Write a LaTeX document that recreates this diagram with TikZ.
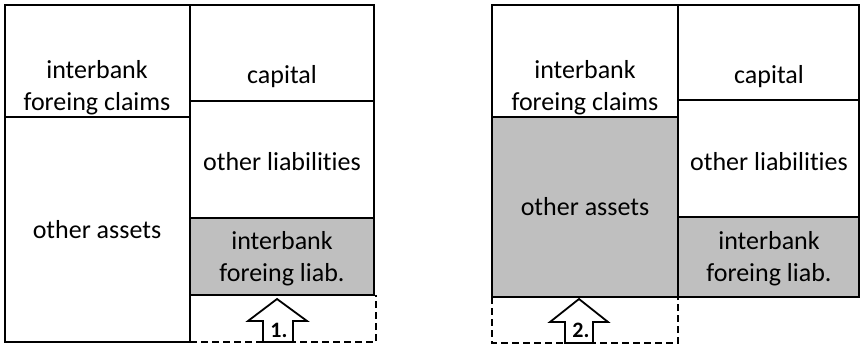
\documentclass[tikz,border=0pt]{standalone}
\usepackage{fontspec}
\setmainfont[Ligatures=NoCommon]{Carlito}
\usepackage{tikz}
\usetikzlibrary{positioning}
\tikzset{
  box/.style={draw, line width=2pt},
  shade/.style={fill=gray!50},
  dashbox/.style={dash pattern=on 7pt off 4pt},
  lbl/.style={font=\fontsize{26}{32}\selectfont, align=center, inner sep=0pt},
  nr/.style={font=\fontsize{22}{22}\selectfont\bfseries, inner sep=0pt},
  uparr/.style={draw, fill=white, line width=1.8pt, line join=miter}
}

\begin{document}
\begin{tikzpicture}[x=1pt, y=-1pt]
\useasboundingbox (0,0) rectangle (861,347);
%
% first balance sheet
\fill[shade] (190,218) rectangle (374,295);
\draw[box] (5,5) rectangle (190,342);
\draw[box] (5,117) -- (190,117);
\draw[box] (190,5) rectangle (374,295);
\draw[box] (190,101) -- (374,101);
\draw[box] (190,218) -- (374,218);
\draw[box, dashbox] (190,342) -- (376,342) -- (376,295);
\draw[uparr] (277,299) -- (307,321) -- (293,321) -- (293,342)
             -- (263,342) -- (263,321) -- (248,321) -- cycle;
%
\node[lbl] (claims1) at (97,88) {interbank\\foreing claims};
\node[lbl] (assets1) at (97,230) {other assets};
\node[lbl] (capital1) at (282,77) {capital};
\node[lbl] (liab1) at (282,162) {other liabilities};
\node[lbl] (forliab1) at (282,259) {interbank\\foreing liab.};
\node[nr] (step1) at (279,330) {1.};
%
% second balance sheet
\fill[shade] (492,117) rectangle (678,297);
\fill[shade] (678,217) rectangle (859,297);
\draw[box] (492,5) rectangle (678,297);
\draw[box] (492,117) -- (678,117);
\draw[box] (678,5) rectangle (859,297);
\draw[box] (678,100) -- (859,100);
\draw[box] (678,217) -- (859,217);
\draw[box, dashbox] (492,297) -- (492,343) -- (678,343) -- (678,297);
\draw[uparr] (579,299) -- (608,322) -- (593,322) -- (593,343)
             -- (565,343) -- (565,322) -- (550,322) -- cycle;
%
\node[lbl] (claims2) at (585,88) {interbank\\foreing claims};
\node[lbl] (assets2) at (585,207) {other assets};
\node[lbl] (capital2) at (769,77) {capital};
\node[lbl] (liab2) at (769,162) {other liabilities};
\node[lbl] (forliab2) at (769,259) {interbank\\foreing liab.};
\node[nr] (step2) at (581,330) {2.};
%
\end{tikzpicture}
\end{document}
